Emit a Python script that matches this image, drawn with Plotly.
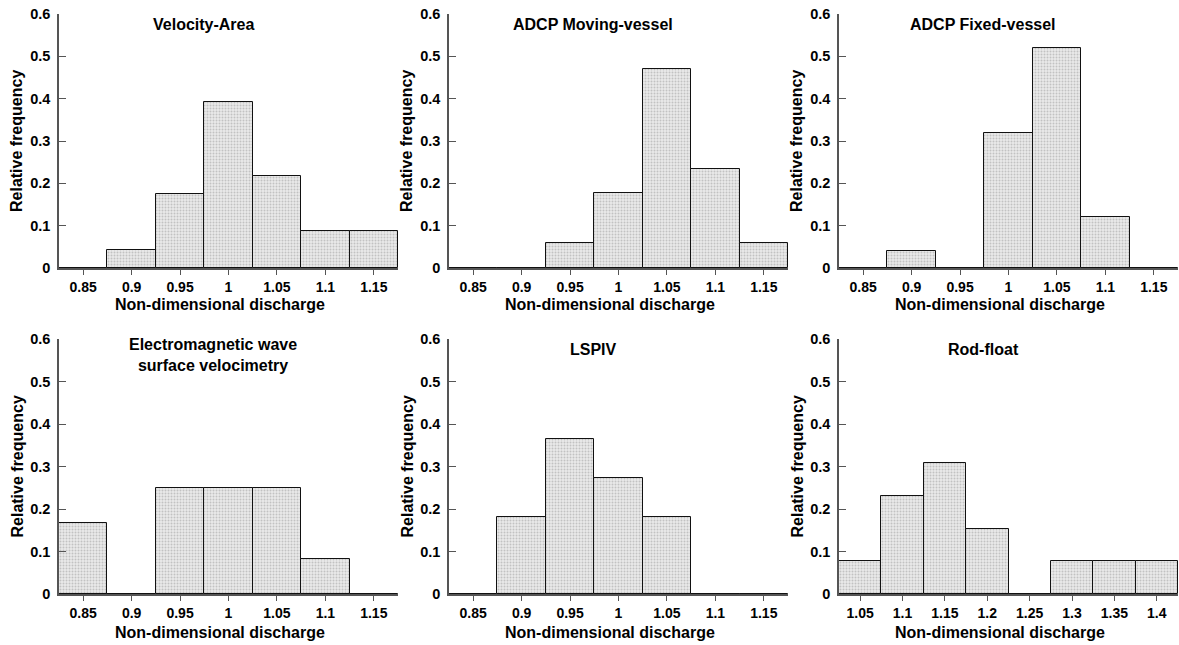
import plotly.graph_objects as go

# ---------------- data ----------------
titles = ["Velocity-Area", "ADCP Moving-vessel", "ADCP Fixed-vessel",
          "Electromagnetic wave<br>surface velocimetry", "LSPIV", "Rod-float"]

bins_a = [0.85, 0.90, 0.95, 1.00, 1.05, 1.10, 1.15]
labels_a = ["0.85", "0.9", "0.95", "1", "1.05", "1.1", "1.15"]
bins_b = [1.05, 1.10, 1.15, 1.20, 1.25, 1.30, 1.35, 1.40]
labels_b = ["1.05", "1.1", "1.15", "1.2", "1.25", "1.3", "1.35", "1.4"]

velocity_area = [0.0, 0.0435, 0.174, 0.391, 0.217, 0.087, 0.087]
adcp_moving = [0.0, 0.0, 0.059, 0.176, 0.471, 0.235, 0.059]
adcp_fixed = [0.0, 0.04, 0.0, 0.32, 0.52, 0.12, 0.0]
electromagnetic = [0.167, 0.0, 0.25, 0.25, 0.25, 0.083, 0.0]
lspiv = [0.0, 0.182, 0.364, 0.273, 0.182, 0.0, 0.0]
rod_float = [0.077, 0.231, 0.308, 0.154, 0.0, 0.077, 0.077, 0.077]

y_ticks = [0, 0.1, 0.2, 0.3, 0.4, 0.5, 0.6]
y_labels = ["0", "0.1", "0.2", "0.3", "0.4", "0.5", "0.6"]

bin_width = 0.05
x_title = "Non-dimensional discharge"
y_title = "Relative frequency"

panels = [
    (bins_a, labels_a, velocity_area),
    (bins_a, labels_a, adcp_moving),
    (bins_a, labels_a, adcp_fixed),
    (bins_a, labels_a, electromagnetic),
    (bins_a, labels_a, lspiv),
    (bins_b, labels_b, rod_float),
]

# ---------------- layout geometry ----------------
W, H = 1179, 645
col_px = [(59, 398), (449, 788), (839, 1178)]
row_px = [(14, 268), (339, 594)]
FONT = "Liberation Sans, Arial, sans-serif"
AXC = "#555555"

fig = go.Figure()
layout = dict(width=W, height=H, margin=dict(l=0, r=0, t=0, b=0, autoexpand=False),
              template="none",
              paper_bgcolor="white", plot_bgcolor="white",
              showlegend=False, bargap=0, annotations=[])

for i, (bins, labels, vals) in enumerate(panels):
    r, c = divmod(i, 3)
    n = i + 1
    xa = "x" if n == 1 else f"x{n}"
    ya = "y" if n == 1 else f"y{n}"
    fig.add_trace(go.Bar(
        x=bins, y=vals, width=bin_width, xaxis=xa, yaxis=ya,
        marker=dict(color="#e0e0e0",
                    pattern=dict(shape=".", fgcolor="#c2c2c2", bgcolor="#ebebeb",
                                 size=3, solidity=0.35),
                    line=dict(color="#111111", width=1)),
    ))
    x0, x1 = col_px[c]
    yt, yb = row_px[r]
    xdom = [x0 / W, x1 / W]
    ydom = [1 - yb / H, 1 - yt / H]
    layout["xaxis" if n == 1 else f"xaxis{n}"] = dict(
        domain=xdom, anchor=ya, range=[bins[0] - bin_width / 2, bins[-1] + bin_width / 2],
        tickvals=bins, ticktext=labels, ticks="outside", ticklen=5, tickwidth=1.2,
        tickcolor=AXC, showline=True, linecolor=AXC, linewidth=1.5, showgrid=False,
        zeroline=False, fixedrange=True, automargin=False,
        tickfont=dict(family=FONT, size=14, color="black", weight="bold"))
    layout["yaxis" if n == 1 else f"yaxis{n}"] = dict(
        domain=ydom, anchor=xa, range=[0, 0.6],
        tickvals=y_ticks, ticktext=y_labels, ticks="inside", ticklen=7, tickwidth=1.2,
        tickcolor=AXC, showline=True, linecolor=AXC, linewidth=1.5, showgrid=False,
        zeroline=False, fixedrange=True, ticklabelstandoff=4, automargin=False,
        tickfont=dict(family=FONT, size=14.5, color="black", weight="bold"))
    # panel title
    tx = 0.454 if i == 3 else 0.425
    ty_px = 355 if i == 3 else (25 if r == 0 else 349)
    layout["annotations"].append(dict(
        text=titles[i], xref=f"{xa} domain", yref="paper", x=tx, y=1 - ty_px / H,
        xanchor="center", yanchor="middle", showarrow=False,
        font=dict(family=FONT, size=16, color="black", weight="bold")))
    # x title
    xt_px = 305 if r == 0 else 632
    layout["annotations"].append(dict(
        text=x_title, xref=f"{xa} domain", yref="paper", x=0.475, y=1 - xt_px / H,
        xanchor="center", yanchor="middle", showarrow=False,
        font=dict(family=FONT, size=16, color="black", weight="bold")))
    # y title
    layout["annotations"].append(dict(
        text=y_title, xref="paper", yref=f"{ya} domain", x=(x0 - 42) / W, y=0.5,
        xanchor="center", yanchor="middle", textangle=-90, showarrow=False,
        font=dict(family=FONT, size=16, color="black", weight="bold")))

fig.update_layout(**layout)
fig.write_html("out.html", config={"displayModeBar": False},
               post_script="document.body.style.margin='0';document.body.style.overflow='hidden';")
